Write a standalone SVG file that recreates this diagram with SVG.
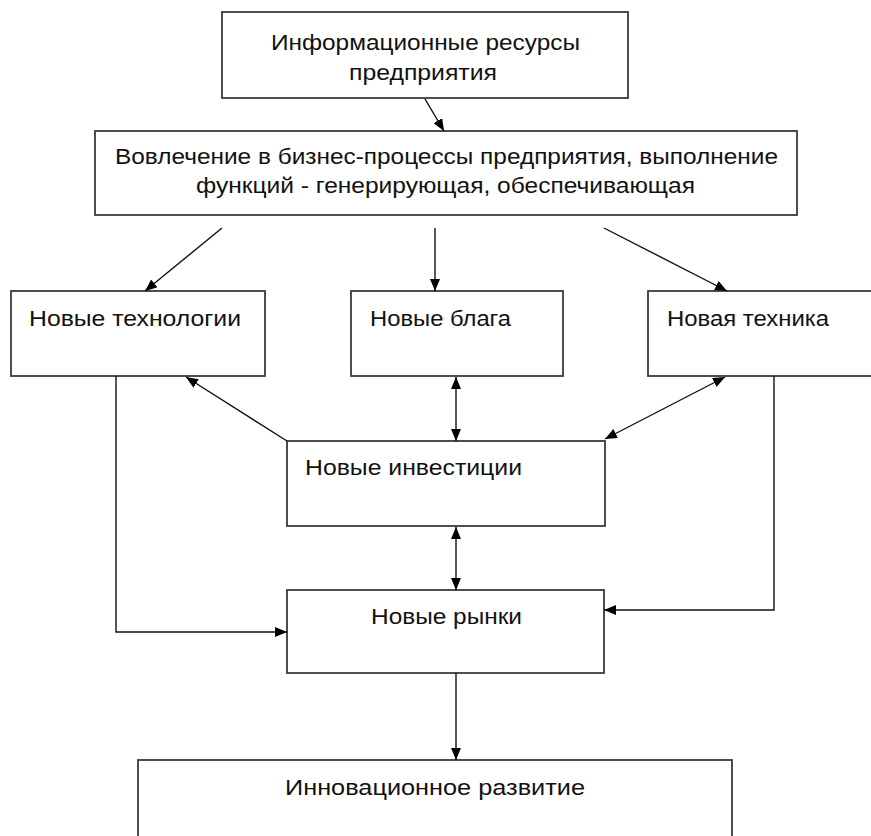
<svg xmlns="http://www.w3.org/2000/svg" width="871" height="836" viewBox="0 0 871 836">
<defs>
<marker id="ah" viewBox="0 0 12 10" refX="12" refY="5" markerWidth="12" markerHeight="10" markerUnits="userSpaceOnUse" orient="auto-start-reverse">
<path d="M0,0 L12,5 L0,10 Z" fill="#000"/>
</marker>
</defs>
<style>
rect{fill:#fff;stroke:#3a3a3a;stroke-width:1.8}
text{font-family:"Liberation Sans",Arial,sans-serif;font-size:22px;fill:#111}
#connectors line,#connectors polyline{stroke:#111;stroke-width:1.4;fill:none}
</style>
<rect x="0" y="0" width="871" height="836" style="stroke:none"/>
<g id="n-info"><rect x="222" y="12" width="406" height="86"/>
<text x="271" y="50" textLength="309" lengthAdjust="spacingAndGlyphs">Информационные ресурсы</text>
<text x="349" y="80" textLength="148" lengthAdjust="spacingAndGlyphs">предприятия</text></g>
<g id="n-involve"><rect x="95" y="131" width="702" height="84"/>
<text x="115" y="164" textLength="663" lengthAdjust="spacingAndGlyphs">Вовлечение в бизнес-процессы предприятия, выполнение</text>
<text x="196" y="193" textLength="499" lengthAdjust="spacingAndGlyphs">функций - генерирующая, обеспечивающая</text></g>
<g id="n-tech"><rect x="11" y="291" width="254" height="85"/>
<text x="29" y="326" textLength="212" lengthAdjust="spacingAndGlyphs">Новые технологии</text></g>
<g id="n-goods"><rect x="351" y="291" width="212" height="85"/>
<text x="370" y="326" textLength="141" lengthAdjust="spacingAndGlyphs">Новые блага</text></g>
<g id="n-equip"><rect x="648" y="291" width="240" height="85"/>
<text x="667" y="326" textLength="162" lengthAdjust="spacingAndGlyphs">Новая техника</text></g>
<g id="n-invest"><rect x="287" y="441" width="318" height="85"/>
<text x="305" y="475" textLength="217" lengthAdjust="spacingAndGlyphs">Новые инвестиции</text></g>
<g id="n-markets"><rect x="287" y="590" width="317" height="83"/>
<text x="371" y="624" textLength="151" lengthAdjust="spacingAndGlyphs">Новые рынки</text></g>
<g id="n-dev"><rect x="138" y="760" width="594" height="100"/>
<text x="285" y="795" textLength="300" lengthAdjust="spacingAndGlyphs">Инновационное развитие</text></g>
<g id="connectors">
<line x1="425" y1="99" x2="444" y2="131" marker-end="url(#ah)"/>
<line x1="222" y1="228" x2="145" y2="291" marker-end="url(#ah)"/>
<line x1="435" y1="228" x2="435" y2="291" marker-end="url(#ah)"/>
<line x1="604" y1="228" x2="727" y2="291" marker-end="url(#ah)"/>
<line x1="287" y1="441" x2="186" y2="377" marker-end="url(#ah)"/>
<line x1="456" y1="377" x2="456" y2="441" marker-start="url(#ah)" marker-end="url(#ah)"/>
<line x1="725" y1="377" x2="605" y2="439" marker-start="url(#ah)" marker-end="url(#ah)"/>
<line x1="456" y1="527" x2="456" y2="590" marker-start="url(#ah)" marker-end="url(#ah)"/>
<polyline points="116,376 116,632 287,632" marker-end="url(#ah)"/>
<polyline points="774,376 774,610 604,610" marker-end="url(#ah)"/>
<line x1="456" y1="673" x2="456" y2="760" marker-end="url(#ah)"/>
</g>
</svg>
